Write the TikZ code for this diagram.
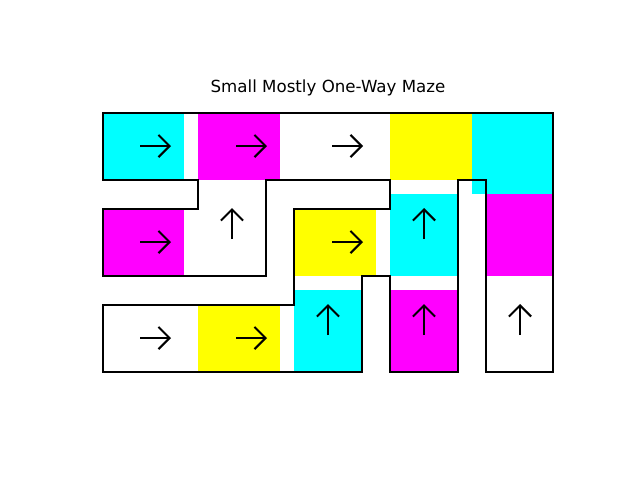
\documentclass[tikz,border=0pt]{standalone}
\usepackage{fontspec}
\setmainfont{DejaVu Sans}
\usetikzlibrary{arrows.meta}
\definecolor{mcyan}{RGB}{0,255,255}
\definecolor{mmag}{RGB}{255,0,255}
\definecolor{myel}{RGB}{255,255,0}
\tikzset{
  wall/.style={draw=black, line width=1.5pt, line join=miter},
  dirarrow/.style={draw=black, line width=1.5pt, -{Straight Barb[length=8pt,width=16pt,line width=1.5pt]}},
  titletext/.style={font=\fontsize{12pt}{14pt}\selectfont, anchor=base}
}
\begin{document}
\begin{tikzpicture}[x=0.72pt, y=-0.72pt]
\useasboundingbox (0,0) rectangle (640,480);
% coloured cells
\fill[mcyan] (103,113) rectangle (184,180);
\fill[mmag] (198,113) rectangle (280,180);
\fill[myel] (390,113) rectangle (472,180);
\fill[mcyan] (472,113) rectangle (553,194);
\fill[mmag] (103,209) rectangle (184,276);
\fill[myel] (294,209) rectangle (376,276);
\fill[mcyan] (390,194) rectangle (458,276);
\fill[mmag] (486,194) rectangle (553,276);
\fill[myel] (198,305) rectangle (280,372);
\fill[mcyan] (294,290) rectangle (362,372);
\fill[mmag] (390,290) rectangle (458,372);
% walls
\draw[wall] (103,113) -- (553,113) -- (553,372) -- (486,372) -- (486,180) -- (458,180)
  -- (458,372) -- (390,372) -- (390,276) -- (362,276) -- (362,372) -- (103,372)
  -- (103,305) -- (294,305) -- (294,209) -- (390,209) -- (390,180) -- (266,180)
  -- (266,276) -- (103,276) -- (103,209) -- (198,209) -- (198,180) -- (103,180) -- cycle;
% direction arrows
\coordinate (h1a) at (140,146); \coordinate (h1b) at (171,146);
\coordinate (h2a) at (236,146); \coordinate (h2b) at (267,146);
\coordinate (h3a) at (332,146); \coordinate (h3b) at (363,146);
\coordinate (h4a) at (140,242); \coordinate (h4b) at (171,242);
\coordinate (h5a) at (332,242); \coordinate (h5b) at (363,242);
\coordinate (h6a) at (140,338); \coordinate (h6b) at (171,338);
\coordinate (h7a) at (236,338); \coordinate (h7b) at (267,338);
\coordinate (v1a) at (232,239); \coordinate (v1b) at (232,208);
\coordinate (v2a) at (424,239); \coordinate (v2b) at (424,208);
\coordinate (v3a) at (328,335); \coordinate (v3b) at (328,304);
\coordinate (v4a) at (424,335); \coordinate (v4b) at (424,304);
\coordinate (v5a) at (520,335); \coordinate (v5b) at (520,304);
\foreach \n in {h1,h2,h3,h4,h5,h6,h7,v1,v2,v3,v4,v5}
  \draw[dirarrow] (\n a) -- (\n b);
% title
\node[titletext] (title) at (328,92.5) {Small Mostly One-Way Maze};
\end{tikzpicture}
\end{document}
